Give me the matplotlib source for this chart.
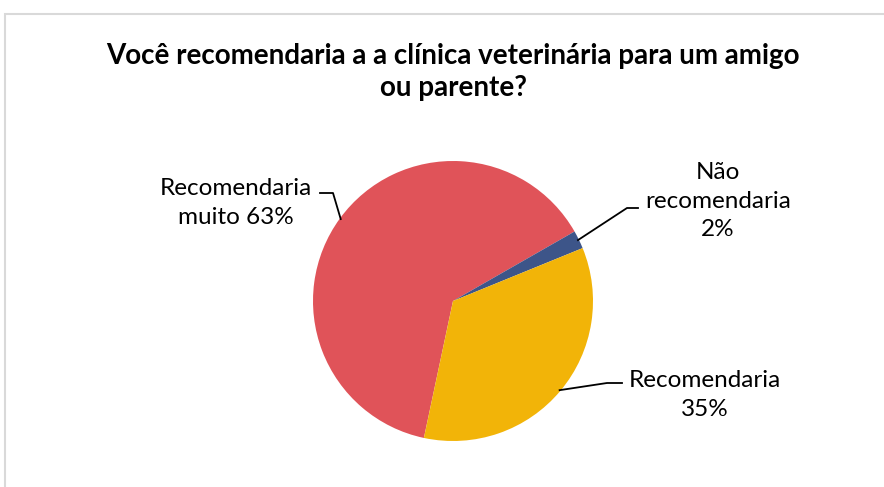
import matplotlib.pyplot as plt
import numpy as np
from matplotlib.patches import Rectangle

plt.rcParams['font.family'] = ['Lato', 'DejaVu Sans']

# data (Excel order, clockwise)
labels = ['Recomendaria\nmuito 63%', 'Não\nrecomendaria\n2%', 'Recomendaria\n35%']
shares = [63.4, 2.1, 34.5]
colors = ['#E05359', '#3D5589', '#F2B408']
title = 'Você recomendaria a a clínica veterinária para um amigo\nou parente?'

W, H = 884, 487
fig = plt.figure(figsize=(W / 100, H / 100), dpi=100)
fig.patch.set_facecolor('white')

# light chart border (top / left visible, rest cropped)
fig.patches.append(Rectangle((5 / W, -0.1), 1.2, 0.1 + (H - 14) / H,
                             transform=fig.transFigure, fill=False,
                             edgecolor='#D9D9D9', linewidth=1.5))

cx, cy, r = 453, 301, 140
ax = fig.add_axes([(cx - r) / W, (H - cy - r) / H, 2 * r / W, 2 * r / H])
wedges, _ = ax.pie(shares, colors=colors, startangle=-102, counterclock=False,
                   radius=1, wedgeprops=dict(linewidth=0))
ax.set_xlim(-1, 1)
ax.set_ylim(-1, 1)
ax.set_aspect('equal')
ax.axis('off')

# overlay in pixel coordinates for labels and leader lines
ov = fig.add_axes([0, 0, 1, 1], facecolor='none')
ov.set_xlim(0, W)
ov.set_ylim(H, 0)
ov.axis('off')

ov.text(453, 72, title, ha='center', va='center', fontsize=20,
        fontweight='bold', linespacing=1.32, color='black')

label_pos = [(236, 203), (718, 201), (705, 395)]
elbows = [((320, 193), (333, 193)), ((638, 208), (627, 208)), ((622, 383), (607, 383))]

for w, lab, (tx, ty), (p0, p1) in zip(wedges, labels, label_pos, elbows):
    mid = np.deg2rad((w.theta1 + w.theta2) / 2)
    ex, ey = cx + (r - 1) * np.cos(mid), cy - (r - 1) * np.sin(mid)
    ov.plot([p0[0], p1[0], ex], [p0[1], p1[1], ey], color='black', lw=1.3)
    ov.text(tx, ty, lab, ha='center', va='center', fontsize=17.5,
            linespacing=1.42, color='black')

fig.savefig('out.png', dpi=100, facecolor='white')
